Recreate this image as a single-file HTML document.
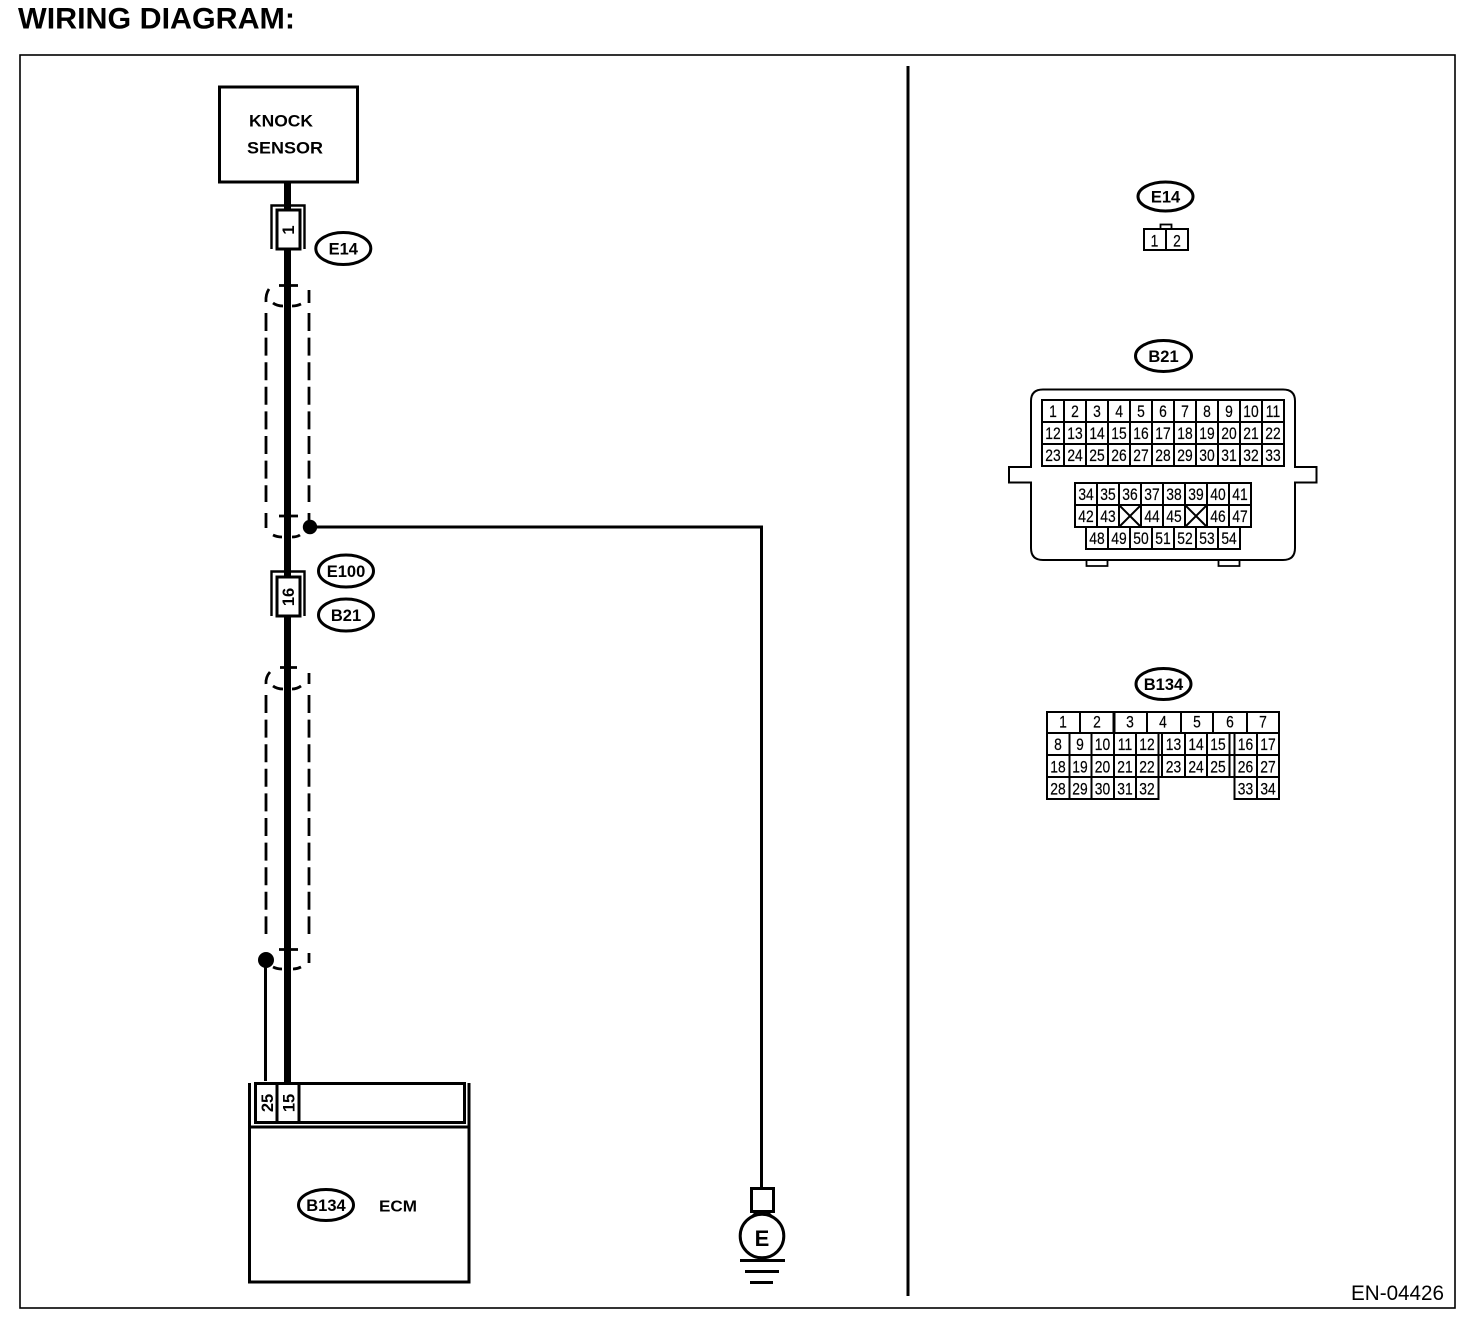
<!DOCTYPE html>
<html><head><meta charset="utf-8"><style>
html,body{margin:0;padding:0;background:#fff;width:1472px;height:1332px;overflow:hidden}
svg{display:block}
text{font-family:"Liberation Sans",sans-serif;fill:#000}
.b{font-weight:bold}
.lb{font-weight:bold;font-size:16.5px;text-anchor:middle}
.n{font-size:16.5px;text-anchor:middle;stroke:#000;stroke-width:.2;transform-box:fill-box;transform-origin:center;transform:scaleX(.84)}
</style></head><body>
<svg width="1472" height="1332" viewBox="0 0 1472 1332" xmlns="http://www.w3.org/2000/svg">
<text x="18" y="28.500" class="b" font-size="29.700" textLength="277" lengthAdjust="spacingAndGlyphs">WIRING DIAGRAM:</text>
<rect x="20" y="55" width="1435" height="1253" fill="none" stroke="#000" stroke-width="1.600"/>
<line x1="908" y1="66" x2="908" y2="1296" stroke="#000" stroke-width="3"/>

<!-- main wire -->
<line x1="287.500" y1="183" x2="287.500" y2="1084" stroke="#000" stroke-width="7"/>

<!-- knock sensor -->
<rect x="219.500" y="87" width="138" height="95" fill="#fff" stroke="#000" stroke-width="3"/>
<text x="249" y="126.500" class="b" font-size="17" textLength="64" lengthAdjust="spacingAndGlyphs">KNOCK</text>
<text x="247" y="153.500" class="b" font-size="17" textLength="76" lengthAdjust="spacingAndGlyphs">SENSOR</text>

<!-- E14 connector -->
<path d="M271.500 249V205.500H304.500V249" fill="none" stroke="#000" stroke-width="2.400"/>
<rect x="277" y="210" width="23" height="39" fill="#fff" stroke="#000" stroke-width="3"/>
<text transform="translate(294,230) rotate(-90)" class="lb">1</text>
<ellipse cx="343.300" cy="248.500" rx="27.500" ry="16" fill="#fff" stroke="#000" stroke-width="3"/>
<text x="343.300" y="254.500" class="lb">E14</text>

<!-- shields -->
<g fill="none" stroke="#000" stroke-width="2.800">
<path d="M266 313V502M309 313V502" stroke-dasharray="18 6.600"/>
<path d="M279 285.500H298M269 289Q265.500 294 266 302M273 303Q277 306 283 306M292 306Q297 306 301 304M309 290V303"/>
<path d="M266 513V528M309 513V520M279 516H298M273 535Q277 537 282 537M292 537Q297 537 300 535"/>
<path d="M266 695V934M309 695V934" stroke-dasharray="18 6.600"/>
<path d="M280 667.500H297M270 672Q265.500 677 266 684M273 686Q277 689 283 689M292 689Q297 689 301 686M309 673V684"/>
<path d="M279 949.500H298M309 953V963M273 967Q277 969 282 969M293 969Q297 969 301 967"/>
</g>

<!-- ground wire -->
<circle cx="310" cy="527" r="7.200" fill="#000"/>
<path d="M310 527H761.500V1188" fill="none" stroke="#000" stroke-width="3"/>
<rect x="751.500" y="1188.500" width="22" height="23" fill="#fff" stroke="#000" stroke-width="3"/>
<path d="M757 1212L752 1217M767 1212L772 1217" stroke="#000" stroke-width="3"/>
<circle cx="762" cy="1236" r="21.800" fill="#fff" stroke="#000" stroke-width="3"/>
<text x="762" y="1246" class="b" font-size="22" text-anchor="middle">E</text>
<path d="M740 1260.500H785M745 1271.500H779M750 1282.500H773" stroke="#000" stroke-width="3"/>

<!-- connector 16 -->
<path d="M271.500 616V571.500H304.500V616" fill="none" stroke="#000" stroke-width="2.400"/>
<rect x="277" y="577" width="23" height="39" fill="#fff" stroke="#000" stroke-width="3"/>
<text transform="translate(294,597) rotate(-90)" class="lb">16</text>
<ellipse cx="346" cy="571" rx="27.500" ry="16" fill="#fff" stroke="#000" stroke-width="3"/>
<text x="346" y="577" class="lb">E100</text>
<ellipse cx="346" cy="615" rx="27.500" ry="16" fill="#fff" stroke="#000" stroke-width="3"/>
<text x="346" y="621" class="lb">B21</text>

<!-- left wire -->
<circle cx="266" cy="960" r="8" fill="#000"/>
<line x1="265.500" y1="960" x2="265.500" y2="1081" stroke="#000" stroke-width="3"/>

<!-- ECM -->
<path d="M249.500 1083V1282H469V1083M249.500 1127H469" fill="none" stroke="#000" stroke-width="3"/>
<rect x="255.500" y="1083.500" width="209" height="39" fill="#fff" stroke="#000" stroke-width="3"/>
<path d="M277 1083V1122M299 1083V1122" stroke="#000" stroke-width="3"/>
<text transform="translate(273,1103) rotate(-90)" class="lb">25</text>
<text transform="translate(294.500,1103) rotate(-90)" class="lb">15</text>
<ellipse cx="326" cy="1205" rx="27.500" ry="15.500" fill="#fff" stroke="#000" stroke-width="3"/>
<text x="326" y="1211" class="lb">B134</text>
<text x="379" y="1211.500" class="b" font-size="16" textLength="38" lengthAdjust="spacingAndGlyphs">ECM</text>

<text x="1351" y="1300" font-size="21" textLength="93" lengthAdjust="spacingAndGlyphs">EN-04426</text>

<!-- E14 right -->
<ellipse cx="1165.500" cy="196.500" rx="27.500" ry="14.500" fill="#fff" stroke="#000" stroke-width="3"/>
<text x="1165.500" y="202.500" class="lb">E14</text>
<rect x="1160.500" y="224.500" width="11" height="5" fill="#fff" stroke="#000" stroke-width="1.800"/>
<rect x="1144" y="229" width="44" height="21" fill="#fff" stroke="#000" stroke-width="2"/>
<line x1="1166" y1="229" x2="1166" y2="250" stroke="#000" stroke-width="2"/>
<text x="1154.500" y="246.500" class="n">1</text>
<text x="1177" y="246.500" class="n">2</text>

<!-- B21 right -->
<ellipse cx="1163.500" cy="356" rx="28" ry="15.500" fill="#fff" stroke="#000" stroke-width="3"/>
<text x="1163.500" y="362" class="lb">B21</text>
<path d="M1086.500 560V566H1107.500V560M1218.500 560V566H1239.500V560" fill="none" stroke="#000" stroke-width="1.800"/>
<path d="M1031 467H1009V482.500H1031V548Q1031 560 1043 560H1283Q1295 560 1295 548V482.500H1316.500V467H1295V401Q1295 389.500 1283 389.500H1043Q1031 389.500 1031 401Z" fill="#fff" stroke="#000" stroke-width="2"/>
<g fill="none" stroke="#000" stroke-width="2">
<path d="M1042 400H1284V466H1042ZM1042 422H1284M1042 444H1284M1064 400V466M1086 400V466M1108 400V466M1130 400V466M1152 400V466M1174 400V466M1196 400V466M1218 400V466M1240 400V466M1262 400V466"/>
<path d="M1075 483H1251V527H1075ZM1075 505H1251M1097 483V527M1119 483V527M1141 483V527M1163 483V527M1185 483V527M1207 483V527M1229 483V527"/>
<path d="M1086 527V549H1240V527M1108 527V549M1130 527V549M1152 527V549M1174 527V549M1196 527V549M1218 527V549"/>
<path d="M1119 505L1141 527M1141 505L1119 527M1185 505L1207 527M1207 505L1185 527"/>
</g>
<g>
<text class="n" x="1053" y="417">1</text><text class="n" x="1075" y="417">2</text><text class="n" x="1097" y="417">3</text><text class="n" x="1119" y="417">4</text><text class="n" x="1141" y="417">5</text><text class="n" x="1163" y="417">6</text><text class="n" x="1185" y="417">7</text><text class="n" x="1207" y="417">8</text><text class="n" x="1229" y="417">9</text><text class="n" x="1251" y="417">10</text><text class="n" x="1273" y="417">11</text>
<text class="n" x="1053" y="439">12</text><text class="n" x="1075" y="439">13</text><text class="n" x="1097" y="439">14</text><text class="n" x="1119" y="439">15</text><text class="n" x="1141" y="439">16</text><text class="n" x="1163" y="439">17</text><text class="n" x="1185" y="439">18</text><text class="n" x="1207" y="439">19</text><text class="n" x="1229" y="439">20</text><text class="n" x="1251" y="439">21</text><text class="n" x="1273" y="439">22</text>
<text class="n" x="1053" y="461">23</text><text class="n" x="1075" y="461">24</text><text class="n" x="1097" y="461">25</text><text class="n" x="1119" y="461">26</text><text class="n" x="1141" y="461">27</text><text class="n" x="1163" y="461">28</text><text class="n" x="1185" y="461">29</text><text class="n" x="1207" y="461">30</text><text class="n" x="1229" y="461">31</text><text class="n" x="1251" y="461">32</text><text class="n" x="1273" y="461">33</text>
<text class="n" x="1086" y="500">34</text><text class="n" x="1108" y="500">35</text><text class="n" x="1130" y="500">36</text><text class="n" x="1152" y="500">37</text><text class="n" x="1174" y="500">38</text><text class="n" x="1196" y="500">39</text><text class="n" x="1218" y="500">40</text><text class="n" x="1240" y="500">41</text>
<text class="n" x="1086" y="522">42</text><text class="n" x="1108" y="522">43</text><text class="n" x="1152" y="522">44</text><text class="n" x="1174" y="522">45</text><text class="n" x="1218" y="522">46</text><text class="n" x="1240" y="522">47</text>
<text class="n" x="1097" y="544">48</text><text class="n" x="1119" y="544">49</text><text class="n" x="1141" y="544">50</text><text class="n" x="1163" y="544">51</text><text class="n" x="1185" y="544">52</text><text class="n" x="1207" y="544">53</text><text class="n" x="1229" y="544">54</text>
</g>

<!-- B134 right -->
<ellipse cx="1163.500" cy="684" rx="27.500" ry="15.500" fill="#fff" stroke="#000" stroke-width="3"/>
<text x="1163.500" y="690" class="lb">B134</text>
<g fill="none" stroke="#000" stroke-width="2">
<path d="M1047 712H1279V733H1047ZM1080 712V733M1114 712V733M1147 712V733M1181 712V733M1213 712V733M1247 712V733"/>
<path d="M1047 733V799H1158.500V733M1047 755H1279M1047 777H1279M1047 733H1279M1069.500 733V799M1091.500 733V799M1114 733V799M1136 733V799"/>
<path d="M1162 733V777M1185 733V777M1207 733V777M1229.500 733V777M1234.500 733V799H1279V733M1257 733V799"/>
</g>
<line x1="1114" y1="712" x2="1114" y2="733" stroke="#000" stroke-width="3"/>
<g>
<text class="n" x="1063" y="727.500">1</text><text class="n" x="1097" y="727.500">2</text><text class="n" x="1130" y="727.500">3</text><text class="n" x="1163" y="727.500">4</text><text class="n" x="1197" y="727.500">5</text><text class="n" x="1230" y="727.500">6</text><text class="n" x="1263" y="727.500">7</text>
<text class="n" x="1058" y="750">8</text><text class="n" x="1080" y="750">9</text><text class="n" x="1102.500" y="750">10</text><text class="n" x="1125" y="750">11</text><text class="n" x="1147" y="750">12</text><text class="n" x="1173.500" y="750">13</text><text class="n" x="1196" y="750">14</text><text class="n" x="1218" y="750">15</text><text class="n" x="1245.500" y="750">16</text><text class="n" x="1268" y="750">17</text>
<text class="n" x="1058" y="772.500">18</text><text class="n" x="1080" y="772.500">19</text><text class="n" x="1102.500" y="772.500">20</text><text class="n" x="1125" y="772.500">21</text><text class="n" x="1147" y="772.500">22</text><text class="n" x="1173.500" y="772.500">23</text><text class="n" x="1196" y="772.500">24</text><text class="n" x="1218" y="772.500">25</text><text class="n" x="1245.500" y="772.500">26</text><text class="n" x="1268" y="772.500">27</text>
<text class="n" x="1058" y="794.500">28</text><text class="n" x="1080" y="794.500">29</text><text class="n" x="1102.500" y="794.500">30</text><text class="n" x="1125" y="794.500">31</text><text class="n" x="1147" y="794.500">32</text><text class="n" x="1245.500" y="794.500">33</text><text class="n" x="1268" y="794.500">34</text>
</g>
</svg>
</body></html>
